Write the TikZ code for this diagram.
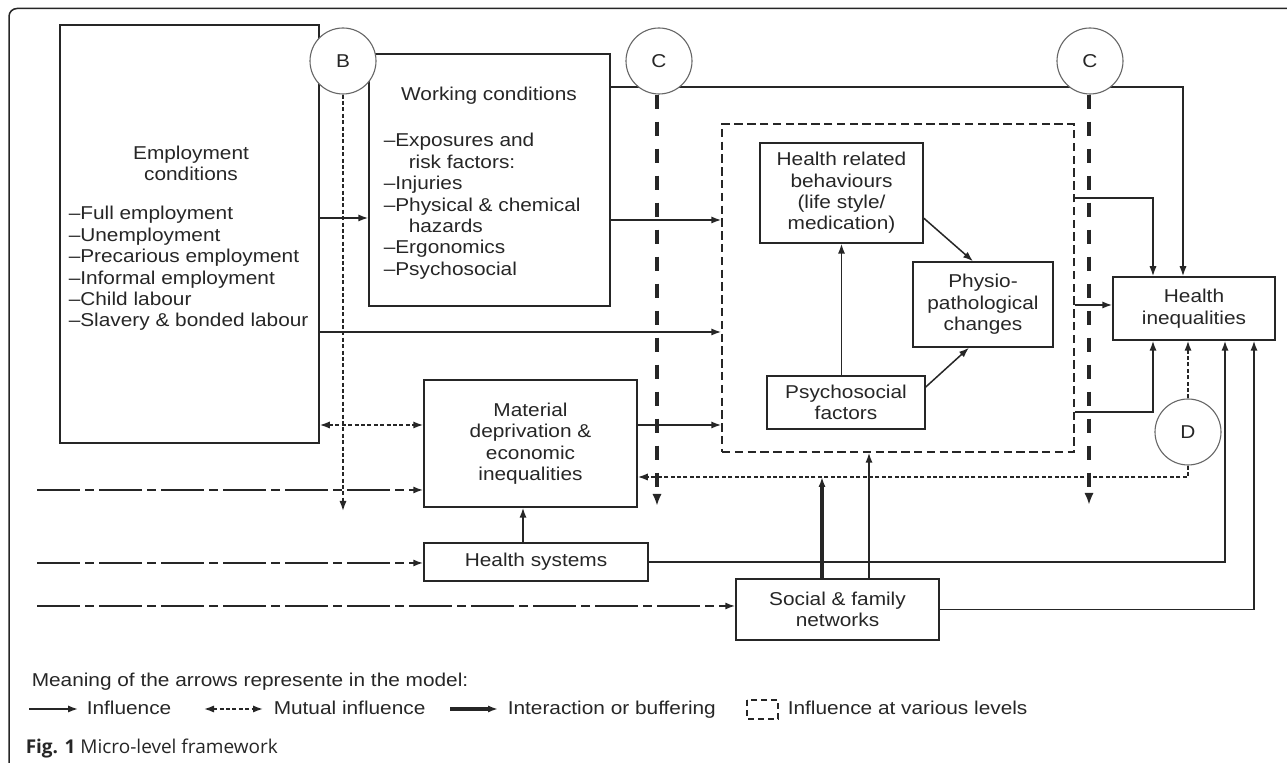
\documentclass[tikz,border=0pt]{standalone}
\usepackage{fontspec}
\setmainfont{Liberation Sans}[FakeStretch=1.12]
\newfontfamily\capfont{Open Sans}
\usetikzlibrary{arrows.meta}

\begin{document}
\begin{tikzpicture}[x=0.5pt,y=-0.5pt,line width=0.75pt,color=black!85,
  font=\fontsize{9.3}{10.7}\selectfont,
  >={Latex[length=5pt,width=3.6pt]},
  box/.style={draw,inner sep=0pt,align=center},
  letter/.style={circle,draw=black!60,line width=0.55pt,fill=white,minimum size=33pt,inner sep=0pt},
  mutual/.style={dash pattern=on 2pt off 1.2pt},
  levels/.style={dash pattern=on 4.2pt off 2.2pt},
  cline/.style={line width=1.7pt,dash pattern=on 7pt off 6.5pt,-{Latex[length=6pt,width=4.6pt]}},
  buffer/.style={line width=1.6pt},
  outside/.style={line width=0.9pt,dash pattern=on 21.5pt off 2.5pt on 4.5pt off 2.5pt}]
\useasboundingbox (0,0) rectangle (1287,763);
\draw[rounded corners=4pt] (9,763) -- (9,8.5) -- (1287,8.5);

% boxes
\node[box,minimum width=129.5pt,minimum height=209pt] (emp) at (189.5,234) {};
\node[anchor=north,align=center] (emptitle) at (191,138.6) {Employment\\conditions};
\node[anchor=north west,align=left,inner sep=0pt] (emplist) at (68,205.6)
  {--Full employment\\--Unemployment\\--Precarious employment\\--Informal employment\\--Child labour\\--Slavery \& bonded labour};
\node[box,minimum width=120.5pt,minimum height=126pt] (work) at (489.5,180) {};
\node[anchor=north,inner sep=0pt] (worktitle) at (489,86.6) {Working conditions};
\node[anchor=north west,align=left,inner sep=0pt] (worklist) at (383,132.6)
  {--Exposures and\\\hspace*{12.5pt}risk factors:\\--Injuries\\--Physical \& chemical\\\hspace*{12.5pt}hazards\\--Ergonomics\\--Psychosocial};
\node[box,minimum width=106.5pt,minimum height=63.5pt] (mat) at (530.5,443.5) {Material\\deprivation \&\\economic\\inequalities};
\node[box,minimum width=112pt,minimum height=19pt] (hsys) at (536,562) {Health systems};
\node[box,minimum width=101.5pt,minimum height=30.5pt] (soc) at (837.5,609.5) {Social \& family\\networks};
\node[draw,levels,minimum width=176pt,minimum height=164pt] (lev) at (898,288) {};
\node[box,minimum width=81.5pt,minimum height=50pt] (hrb) at (841.5,193) {Health related\\behaviours\\(life style/\\medication)};
\node[box,minimum width=70pt,minimum height=42.5pt] (phys) at (983,304.5) {Physio-\\pathological\\changes};
\node[box,minimum width=79pt,minimum height=26.5pt] (psy) at (846,402.5) {Psychosocial\\factors};
\node[box,minimum width=81pt,minimum height=31.5pt] (hin) at (1194,308.5) {Health\\inequalities};

% line behind the circles
\draw[->] (work.east |- 0,87) -| (hin.north -| 1183,0);

\node[letter] (B) at (343,61) {B};
\node[letter] (C1) at (659,61) {C};
\node[letter] (C2) at (1090,61) {C};
\node[letter] (D) at (1188,432) {D};

\coordinate (Bend) at (343,511);
\coordinate (C1end) at (657,506);
\coordinate (C2end) at (1089,505);
\draw[->,mutual] (B.south) -- (Bend);
\draw[cline] (C1.south -| C1end) -- (C1end);
\draw[cline] (C2.south -| C2end) -- (C2end);

\draw[->] (emp.east |- 0,218) -- (work.west |- 0,218);
\draw[->] (work.east |- 0,220) -- (lev.west |- 0,220);
\draw[->] (emp.east |- 0,332) -- (lev.west |- 0,332);
\draw[->] (mat.east |- 0,425) -- (lev.west |- 0,425);
\draw[<->,mutual] (emp.east |- 0,425) -- (mat.west |- 0,425);
\draw[->] (hsys.north -| 523,0) -- (mat.south -| 523,0);

\draw[->] (psy.north -| hrb.south) -- (hrb.south);
\draw[->] (hrb.-17) -- (phys.103);
\draw[->] (psy.11) -- (phys.252);

\draw[->] (lev.east |- 0,198) -| (hin.north -| 1153,0);
\draw[->] (lev.east |- 0,305) -- (hin.west |- 0,305);
\draw[->] (lev.east |- 0,412) -| (hin.south -| 1153,0);
\draw[->,mutual] (D.north) -- (hin.south -| D.north);
\draw[->,mutual] (D.south) |- (mat.east |- 0,477);
\draw[->] (hsys.east) -| (hin.south -| 1225,0);
\draw[->] (soc.east) -| (hin.south -| 1254,0);

\coordinate (buf) at (822,477);
\draw[->,buffer] (soc.north -| buf) -- (buf);
\draw[->] (soc.north -| 869,0) -- (lev.south -| 869,0);

% from the outer levels
\coordinate (out1) at (37,490);
\coordinate (out2) at (37,563);
\coordinate (out3) at (37,606);
\draw[->,outside] (out1) -- (mat.west |- out1);
\draw[->,outside] (out2) -- (hsys.west |- out2);
\draw[->,outside] (out3) -- (soc.west |- out3);

% legend
\node[anchor=base west,inner sep=0pt] (meaning) at (31,687) {Meaning of the arrows represente in the model:};
\draw[->] (29,709) -- ++(49,0);
\node[anchor=base west,inner sep=0pt] (leg1) at (86,715) {Influence};
\draw[<->,mutual] (204,709) -- ++(59,0);
\node[anchor=base west,inner sep=0pt] (leg2) at (273,715) {Mutual influence};
\draw[->,buffer] (450,709) -- ++(48,0);
\node[anchor=base west,inner sep=0pt] (leg3) at (507,715) {Interaction or buffering};
\draw[dash pattern=on 3pt off 2pt] (747,700) rectangle (778,719);
\node[anchor=base west,inner sep=0pt] (leg4) at (787,715) {Influence at various levels};

\node[anchor=base west,inner sep=0pt,font=\capfont\fontsize{9.5}{11}\selectfont] (caption) at (25,754) {\textbf{Fig. 1} Micro-level framework};
\end{tikzpicture}
\end{document}
